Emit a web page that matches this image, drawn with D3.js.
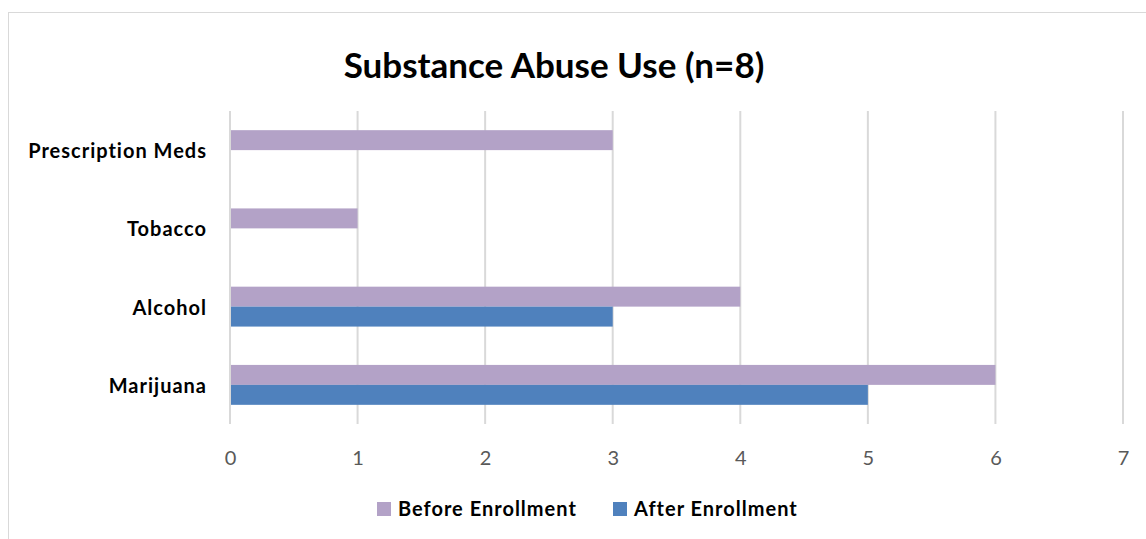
<!DOCTYPE html>
<html><head><meta charset="utf-8">
<script src="https://cdn.jsdelivr.net/npm/d3@7"></script>
<style>body{margin:0;background:#fff}svg{display:block}</style>
</head><body><svg id="c" width="1146" height="539"></svg>
<script>
const categories = ["Prescription Meds","Tobacco","Alcohol","Marijuana"];
const beforeEnrollment = [3,1,4,6];
const afterEnrollment = [0,0,3,5];
const seriesNames = ["Before Enrollment","After Enrollment"];
const seriesColors = ["#B3A2C7","#4F81BD"];
const xTicks = [0,1,2,3,4,5,6,7];
const title = "Substance Abuse Use (n=8)";

const svg = d3.select("#c");
const font = "Lato, 'Open Sans', sans-serif";
svg.append("rect").attr("x",8.5).attr("y",12.5).attr("width",1150).attr("height",540)
  .attr("fill","#fff").attr("stroke","#d9d9d9").attr("stroke-width",1);

const x = d3.scaleLinear().domain([0,7]).range([230,1123]);
const y = d3.scaleBand().domain(categories).range([111,424]).paddingInner(0.49).paddingOuter(0.245);

// gridlines
svg.append("g").selectAll("line").data(xTicks).join("line")
  .attr("x1",d=>x(d)).attr("x2",d=>x(d)).attr("y1",111).attr("y2",424)
  .attr("stroke","#d9d9d9").attr("stroke-width",2);

const data = categories.map((c,i)=>({c, v:[beforeEnrollment[i], afterEnrollment[i]]}));
const sub = d3.scaleBand().domain([0,1]).range([0,y.bandwidth()]);
const g = svg.append("g");
data.forEach(d=>{
  d.v.forEach((v,j)=>{
    if(v>0) g.append("rect").attr("x",x(0)+1).attr("y",y(d.c)+sub(j))
      .attr("width",x(v)-x(0)-1).attr("height",sub.bandwidth()).attr("fill",seriesColors[j]);
  });
});

// x axis labels
const xa = d3.axisBottom(x).tickValues(xTicks).tickFormat(d3.format("d")).tickSize(0).tickPadding(0);
const xg = svg.append("g").attr("transform","translate(0,458)").call(xa);
xg.select(".domain").remove();
xg.selectAll("text").attr("font-family",font).attr("font-size",20).attr("fill","#595959").attr("dy","0.35em").attr("y",0);

// y axis labels
const ya = d3.axisLeft(y).tickSize(0).tickPadding(0);
const yg = svg.append("g").attr("transform","translate(207,1)").call(ya);
yg.select(".domain").remove();
yg.selectAll("text").attr("font-family",font).attr("font-size",20).attr("font-weight","bold")
  .attr("letter-spacing","1px").attr("fill","#000").attr("dy","0.35em");

svg.append("text").attr("x",554).attr("y",78).attr("text-anchor","middle")
  .attr("font-family",font).attr("font-size",35).attr("font-weight","bold").attr("fill","#000").text(title);

// legend
const lx = [377,613];
seriesNames.forEach((n,i)=>{
  svg.append("rect").attr("x",lx[i]).attr("y",502).attr("width",14).attr("height",14).attr("fill",seriesColors[i]);
  svg.append("text").attr("x",lx[i]+21).attr("y",509).attr("dy","0.35em").attr("letter-spacing","1px")
    .attr("font-family",font).attr("font-size",20).attr("font-weight","bold").attr("fill","#000").text(n);
});
</script></body></html>
